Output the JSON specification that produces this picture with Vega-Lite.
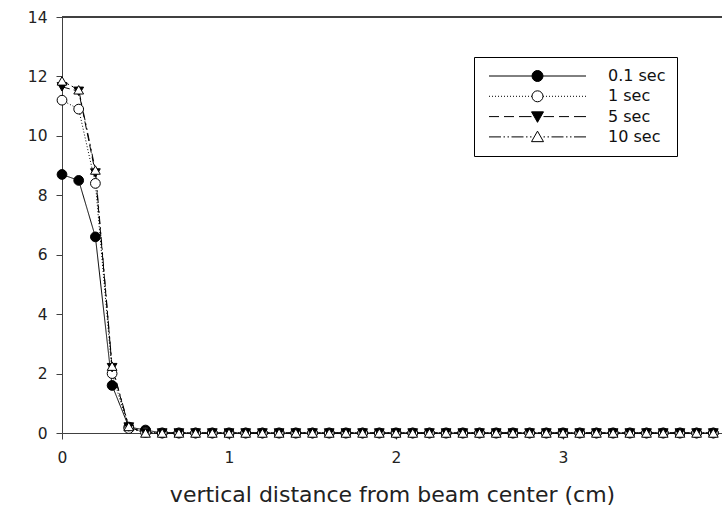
{
  "$schema": "https://vega.github.io/schema/vega-lite/v6.json",
  "width": 660,
  "height": 416,
  "autosize": {"type": "none"},
  "padding": {"left": 62, "top": 17, "right": 0, "bottom": 74},
  "background": "white",
  "config": {
    "view": {"stroke": null},
    "font": "DejaVu Sans",
    "axis": {
      "grid": false,
      "domainColor": "#404040",
      "tickColor": "#404040",
      "labelColor": "#222222",
      "labelFont": "DejaVu Sans",
      "labelFontSize": 15.5,
      "tickSize": 6
    }
  },
  "data": {
    "values": [
      {"s": "0.1 sec", "x": 0, "y": 8.7}, {"s": "0.1 sec", "x": 0.1, "y": 8.5}, {"s": "0.1 sec", "x": 0.2, "y": 6.6}, {"s": "0.1 sec", "x": 0.3, "y": 1.6},
      {"s": "0.1 sec", "x": 0.4, "y": 0.2}, {"s": "0.1 sec", "x": 0.5, "y": 0.1}, {"s": "0.1 sec", "x": 0.6, "y": 0}, {"s": "0.1 sec", "x": 0.7, "y": 0},
      {"s": "0.1 sec", "x": 0.8, "y": 0}, {"s": "0.1 sec", "x": 0.9, "y": 0}, {"s": "0.1 sec", "x": 1, "y": 0}, {"s": "0.1 sec", "x": 1.1, "y": 0},
      {"s": "0.1 sec", "x": 1.2, "y": 0}, {"s": "0.1 sec", "x": 1.3, "y": 0}, {"s": "0.1 sec", "x": 1.4, "y": 0}, {"s": "0.1 sec", "x": 1.5, "y": 0},
      {"s": "0.1 sec", "x": 1.6, "y": 0}, {"s": "0.1 sec", "x": 1.7, "y": 0}, {"s": "0.1 sec", "x": 1.8, "y": 0}, {"s": "0.1 sec", "x": 1.9, "y": 0},
      {"s": "0.1 sec", "x": 2, "y": 0}, {"s": "0.1 sec", "x": 2.1, "y": 0}, {"s": "0.1 sec", "x": 2.2, "y": 0}, {"s": "0.1 sec", "x": 2.3, "y": 0},
      {"s": "0.1 sec", "x": 2.4, "y": 0}, {"s": "0.1 sec", "x": 2.5, "y": 0}, {"s": "0.1 sec", "x": 2.6, "y": 0}, {"s": "0.1 sec", "x": 2.7, "y": 0},
      {"s": "0.1 sec", "x": 2.8, "y": 0}, {"s": "0.1 sec", "x": 2.9, "y": 0}, {"s": "0.1 sec", "x": 3, "y": 0}, {"s": "0.1 sec", "x": 3.1, "y": 0},
      {"s": "0.1 sec", "x": 3.2, "y": 0}, {"s": "0.1 sec", "x": 3.3, "y": 0}, {"s": "0.1 sec", "x": 3.4, "y": 0}, {"s": "0.1 sec", "x": 3.5, "y": 0},
      {"s": "0.1 sec", "x": 3.6, "y": 0}, {"s": "0.1 sec", "x": 3.7, "y": 0}, {"s": "0.1 sec", "x": 3.8, "y": 0}, {"s": "0.1 sec", "x": 3.9, "y": 0},

      {"s": "1 sec", "x": 0, "y": 11.2}, {"s": "1 sec", "x": 0.1, "y": 10.9}, {"s": "1 sec", "x": 0.2, "y": 8.4}, {"s": "1 sec", "x": 0.3, "y": 2.0},
      {"s": "1 sec", "x": 0.4, "y": 0.15}, {"s": "1 sec", "x": 0.5, "y": 0.02}, {"s": "1 sec", "x": 0.6, "y": 0}, {"s": "1 sec", "x": 0.7, "y": 0},
      {"s": "1 sec", "x": 0.8, "y": 0}, {"s": "1 sec", "x": 0.9, "y": 0}, {"s": "1 sec", "x": 1, "y": 0}, {"s": "1 sec", "x": 1.1, "y": 0},
      {"s": "1 sec", "x": 1.2, "y": 0}, {"s": "1 sec", "x": 1.3, "y": 0}, {"s": "1 sec", "x": 1.4, "y": 0}, {"s": "1 sec", "x": 1.5, "y": 0},
      {"s": "1 sec", "x": 1.6, "y": 0}, {"s": "1 sec", "x": 1.7, "y": 0}, {"s": "1 sec", "x": 1.8, "y": 0}, {"s": "1 sec", "x": 1.9, "y": 0},
      {"s": "1 sec", "x": 2, "y": 0}, {"s": "1 sec", "x": 2.1, "y": 0}, {"s": "1 sec", "x": 2.2, "y": 0}, {"s": "1 sec", "x": 2.3, "y": 0},
      {"s": "1 sec", "x": 2.4, "y": 0}, {"s": "1 sec", "x": 2.5, "y": 0}, {"s": "1 sec", "x": 2.6, "y": 0}, {"s": "1 sec", "x": 2.7, "y": 0},
      {"s": "1 sec", "x": 2.8, "y": 0}, {"s": "1 sec", "x": 2.9, "y": 0}, {"s": "1 sec", "x": 3, "y": 0}, {"s": "1 sec", "x": 3.1, "y": 0},
      {"s": "1 sec", "x": 3.2, "y": 0}, {"s": "1 sec", "x": 3.3, "y": 0}, {"s": "1 sec", "x": 3.4, "y": 0}, {"s": "1 sec", "x": 3.5, "y": 0},
      {"s": "1 sec", "x": 3.6, "y": 0}, {"s": "1 sec", "x": 3.7, "y": 0}, {"s": "1 sec", "x": 3.8, "y": 0}, {"s": "1 sec", "x": 3.9, "y": 0},

      {"s": "5 sec", "x": 0, "y": 11.65}, {"s": "5 sec", "x": 0.1, "y": 11.5}, {"s": "5 sec", "x": 0.2, "y": 8.75}, {"s": "5 sec", "x": 0.3, "y": 2.2},
      {"s": "5 sec", "x": 0.4, "y": 0.2}, {"s": "5 sec", "x": 0.5, "y": 0}, {"s": "5 sec", "x": 0.6, "y": 0}, {"s": "5 sec", "x": 0.7, "y": 0},
      {"s": "5 sec", "x": 0.8, "y": 0}, {"s": "5 sec", "x": 0.9, "y": 0}, {"s": "5 sec", "x": 1, "y": 0}, {"s": "5 sec", "x": 1.1, "y": 0},
      {"s": "5 sec", "x": 1.2, "y": 0}, {"s": "5 sec", "x": 1.3, "y": 0}, {"s": "5 sec", "x": 1.4, "y": 0}, {"s": "5 sec", "x": 1.5, "y": 0},
      {"s": "5 sec", "x": 1.6, "y": 0}, {"s": "5 sec", "x": 1.7, "y": 0}, {"s": "5 sec", "x": 1.8, "y": 0}, {"s": "5 sec", "x": 1.9, "y": 0},
      {"s": "5 sec", "x": 2, "y": 0}, {"s": "5 sec", "x": 2.1, "y": 0}, {"s": "5 sec", "x": 2.2, "y": 0}, {"s": "5 sec", "x": 2.3, "y": 0},
      {"s": "5 sec", "x": 2.4, "y": 0}, {"s": "5 sec", "x": 2.5, "y": 0}, {"s": "5 sec", "x": 2.6, "y": 0}, {"s": "5 sec", "x": 2.7, "y": 0},
      {"s": "5 sec", "x": 2.8, "y": 0}, {"s": "5 sec", "x": 2.9, "y": 0}, {"s": "5 sec", "x": 3, "y": 0}, {"s": "5 sec", "x": 3.1, "y": 0},
      {"s": "5 sec", "x": 3.2, "y": 0}, {"s": "5 sec", "x": 3.3, "y": 0}, {"s": "5 sec", "x": 3.4, "y": 0}, {"s": "5 sec", "x": 3.5, "y": 0},
      {"s": "5 sec", "x": 3.6, "y": 0}, {"s": "5 sec", "x": 3.7, "y": 0}, {"s": "5 sec", "x": 3.8, "y": 0}, {"s": "5 sec", "x": 3.9, "y": 0},

      {"s": "10 sec", "x": 0, "y": 11.85}, {"s": "10 sec", "x": 0.1, "y": 11.55}, {"s": "10 sec", "x": 0.2, "y": 8.85}, {"s": "10 sec", "x": 0.3, "y": 2.25},
      {"s": "10 sec", "x": 0.4, "y": 0.22}, {"s": "10 sec", "x": 0.5, "y": 0}, {"s": "10 sec", "x": 0.6, "y": 0}, {"s": "10 sec", "x": 0.7, "y": 0},
      {"s": "10 sec", "x": 0.8, "y": 0}, {"s": "10 sec", "x": 0.9, "y": 0}, {"s": "10 sec", "x": 1, "y": 0}, {"s": "10 sec", "x": 1.1, "y": 0},
      {"s": "10 sec", "x": 1.2, "y": 0}, {"s": "10 sec", "x": 1.3, "y": 0}, {"s": "10 sec", "x": 1.4, "y": 0}, {"s": "10 sec", "x": 1.5, "y": 0},
      {"s": "10 sec", "x": 1.6, "y": 0}, {"s": "10 sec", "x": 1.7, "y": 0}, {"s": "10 sec", "x": 1.8, "y": 0}, {"s": "10 sec", "x": 1.9, "y": 0},
      {"s": "10 sec", "x": 2, "y": 0}, {"s": "10 sec", "x": 2.1, "y": 0}, {"s": "10 sec", "x": 2.2, "y": 0}, {"s": "10 sec", "x": 2.3, "y": 0},
      {"s": "10 sec", "x": 2.4, "y": 0}, {"s": "10 sec", "x": 2.5, "y": 0}, {"s": "10 sec", "x": 2.6, "y": 0}, {"s": "10 sec", "x": 2.7, "y": 0},
      {"s": "10 sec", "x": 2.8, "y": 0}, {"s": "10 sec", "x": 2.9, "y": 0}, {"s": "10 sec", "x": 3, "y": 0}, {"s": "10 sec", "x": 3.1, "y": 0},
      {"s": "10 sec", "x": 3.2, "y": 0}, {"s": "10 sec", "x": 3.3, "y": 0}, {"s": "10 sec", "x": 3.4, "y": 0}, {"s": "10 sec", "x": 3.5, "y": 0},
      {"s": "10 sec", "x": 3.6, "y": 0}, {"s": "10 sec", "x": 3.7, "y": 0}, {"s": "10 sec", "x": 3.8, "y": 0}, {"s": "10 sec", "x": 3.9, "y": 0}
    ]
  },
  "layer": [
    {
      "mark": {"type": "line", "color": "black", "strokeWidth": 1},
      "encoding": {
        "x": {
          "field": "x", "type": "quantitative",
          "scale": {"domain": [0, 3.952], "nice": false, "zero": false},
          "axis": {"values": [0, 1, 2, 3], "format": "d", "labelFlush": false, "title": "vertical distance from beam center (cm)", "titleFont": "DejaVu Sans", "titleFontSize": 22, "titleFontWeight": "normal", "titleColor": "#222222", "titlePadding": 19, "labelPadding": 11}
        },
        "y": {
          "field": "y", "type": "quantitative",
          "scale": {"domain": [0, 14], "nice": false},
          "axis": {"values": [0, 2, 4, 6, 8, 10, 12, 14], "title": null, "labelPadding": 9}
        },
        "strokeDash": {
          "field": "s", "type": "nominal",
          "scale": {"domain": ["5 sec", "10 sec", "0.1 sec", "1 sec"], "range": [[8, 4], [8, 3, 2, 3, 2, 3], [1, 0], [1, 2]]},
          "legend": null
        }
      }
    },
    {
      "mark": {"type": "point", "filled": true, "stroke": "black", "strokeWidth": 1, "opacity": 1},
      "encoding": {
        "x": {"field": "x", "type": "quantitative"},
        "y": {"field": "y", "type": "quantitative"},
        "shape": {
          "field": "s", "type": "nominal",
          "scale": {"domain": ["10 sec", "5 sec", "1 sec", "0.1 sec"], "range": ["triangle-up", "triangle-down", "circle", "circle"]},
          "legend": null
        },
        "size": {
          "field": "s", "type": "nominal",
          "scale": {"domain": ["1 sec", "0.1 sec", "10 sec", "5 sec"], "range": [95, 95, 125, 125]},
          "legend": null
        },
        "fill": {
          "field": "s", "type": "nominal",
          "scale": {"domain": ["0.1 sec", "1 sec", "5 sec", "10 sec"], "range": ["black", "white", "black", "white"]},
          "legend": {
            "title": null,
            "orient": "none",
            "legendX": 412,
            "legendY": 40,
            "strokeColor": "black",
            "fillColor": "white",
            "padding": 11,
            "symbolSize": 100,
            "symbolOffset": -4,
            "symbolStrokeColor": "black",
            "symbolStrokeWidth": 1,
            "symbolOpacity": 1,
            "labelOffset": 111,
            "labelFont": "DejaVu Sans",
            "labelFontSize": 16,
            "labelColor": "#111111",
            "rowPadding": 4.3,
            "symbolType": {"expr": "datum.value === '0.1 sec' ? 'M0,0L8.6,0M10.8,0L19.4,0M10.8,0A1.1,1.1,0,1,1,8.6,0A1.1,1.1,0,1,1,10.8,0Z' : datum.value === '1 sec' ? 'M0,0L0.2,0M0.6,0L0.8,0M1.2,0L1.4,0M1.8,0L2,0M2.4,0L2.6,0M3,0L3.2,0M3.6,0L3.8,0M4.2,0L4.4,0M4.8,0L5,0M5.4,0L5.6,0M6,0L6.2,0M6.6,0L6.8,0M7.2,0L7.4,0M7.8,0L8,0M8.4,0L8.6,0M10.8,0L11,0M11.4,0L11.6,0M12,0L12.2,0M12.6,0L12.8,0M13.2,0L13.4,0M13.8,0L14,0M14.4,0L14.6,0M15,0L15.2,0M15.6,0L15.8,0M16.2,0L16.4,0M16.8,0L17,0M17.4,0L17.6,0M18,0L18.2,0M18.6,0L18.8,0M19.2,0L19.4,0M10.8,0A1.1,1.1,0,1,1,8.6,0A1.1,1.1,0,1,1,10.8,0Z' : datum.value === '5 sec' ? 'M0,0L2,0M3,0L5,0M6,0L8.5,0M10.9,0L13,0M14,0L16,0M17,0L19.4,0M8.5,-0.95L10.9,-0.95L9.7,1.15Z' : 'M0,0L2.4,0M2.9,0L3.2,0M3.7,0L4,0M4.5,0L6.9,0M7.4,0L7.7,0M8.2,0L8.5,0M10.9,0L11.2,0M11.7,0L12,0M12.5,0L14.9,0M15.4,0L15.7,0M16.2,0L16.5,0M17,0L19.4,0M8.5,0.95L10.9,0.95L9.7,-1.15Z'"}
          }
        }
      }
    },
    {
      "mark": {"type": "rule", "color": "#404040", "strokeWidth": 1},
      "encoding": {"y": {"datum": 14, "type": "quantitative"}}
    }
  ]
}
